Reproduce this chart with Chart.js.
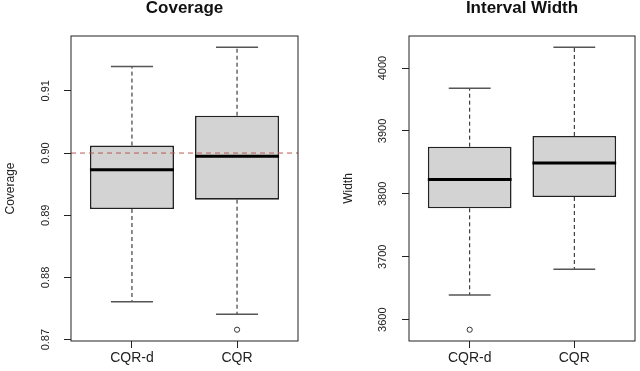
<!DOCTYPE html>
<html>
<head>
<meta charset="utf-8">
<script src="https://cdn.jsdelivr.net/npm/chart.js@4/dist/chart.umd.min.js"></script>
<style>
  body { margin: 0; background: #fff; }
  .panel { display: inline-block; width: 320px; height: 371px; vertical-align: top; }
</style>
</head>
<body>
<div class="panel"><canvas id="coverageChart" width="320" height="371"></canvas></div><div class="panel"><canvas id="widthChart" width="320" height="371"></canvas></div>
<script>
// box statistics
const groups = ['CQR-d', 'CQR'];

const covLow = [0.8761, 0.8741];
const covQ1 = [0.8910, 0.8925];
const covMedian = [0.8973, 0.8995];
const covQ3 = [0.9012, 0.9060];
const covHigh = [0.9139, 0.9170];
const covOutliers = [[], [0.8716]];
const covTicks = [0.87, 0.88, 0.89, 0.90, 0.91];
const covTarget = 0.90;

const widthLow = [3639, 3680];
const widthQ1 = [3777, 3795];
const widthMedian = [3823, 3849];
const widthQ3 = [3875, 3892];
const widthHigh = [3968, 4033];
const widthOutliers = [[3584], []];
const widthTicks = [3600, 3700, 3800, 3900, 4000];

const FONT = "'Liberation Sans', Arial, sans-serif";

// R style: range of all values, widened by 4%
function rangeOf(low, high, outliers) {
  const all = low.concat(high, ...outliers);
  const lo = Math.min(...all), hi = Math.max(...all);
  const pad = (hi - lo) * 0.04;
  return [lo - pad, hi + pad];
}

const boxPlugin = {
  id: 'boxParts',
  afterDatasetsDraw(chart, args, opts) {
    const { ctx, chartArea } = chart;
    const x = chart.scales.x, y = chart.scales.y;
    const half = (x.getPixelForValue(1.4) - x.getPixelForValue(1)); // box half width
    ctx.save();
    opts.low.forEach((lo, i) => {
      const cx = x.getPixelForValue(i + 1);
      // whiskers
      ctx.setLineDash([4, 3]);
      ctx.strokeStyle = '#1a1a1a';
      ctx.lineWidth = 1;
      ctx.beginPath();
      ctx.moveTo(cx, y.getPixelForValue(opts.q3[i]));
      ctx.lineTo(cx, y.getPixelForValue(opts.high[i]));
      ctx.moveTo(cx, y.getPixelForValue(opts.q1[i]));
      ctx.lineTo(cx, y.getPixelForValue(lo));
      ctx.stroke();
      // staples
      ctx.setLineDash([]);
      ctx.strokeStyle = '#555';
      ctx.lineWidth = 1.5;
      ctx.beginPath();
      [lo, opts.high[i]].forEach(v => {
        const py = y.getPixelForValue(v);
        ctx.moveTo(cx - half / 2, py);
        ctx.lineTo(cx + half / 2, py);
      });
      ctx.stroke();
      // median
      ctx.strokeStyle = '#000';
      ctx.lineWidth = 3;
      ctx.beginPath();
      const my = y.getPixelForValue(opts.median[i]);
      ctx.moveTo(cx - half, my);
      ctx.lineTo(cx + half, my);
      ctx.stroke();
    });
    if (opts.target != null) {
      ctx.setLineDash([5, 4]);
      ctx.strokeStyle = '#b85a50';
      ctx.lineWidth = 1;
      const ty = y.getPixelForValue(opts.target);
      ctx.beginPath();
      ctx.moveTo(chartArea.left, ty);
      ctx.lineTo(chartArea.right, ty);
      ctx.stroke();
    }
    // frame
    ctx.setLineDash([]);
    ctx.strokeStyle = '#222';
    ctx.lineWidth = 1;
    ctx.strokeRect(chartArea.left, chartArea.top, chartArea.right - chartArea.left, chartArea.bottom - chartArea.top);
    ctx.restore();
  }
};

function makeChart(id, title, yTitle, stats, ticks, fmt, padLeft, padRight) {
  const [ymin, ymax] = rangeOf(stats.low, stats.high, stats.outliers);
  const outlierPoints = [];
  stats.outliers.forEach((list, i) => list.forEach(v => outlierPoints.push({ x: i + 1, y: v })));

  return new Chart(document.getElementById(id), {
    type: 'bar',
    data: {
      datasets: [{
        data: groups.map((g, i) => ({ x: i + 1, y: [stats.q1[i], stats.q3[i]] })),
        backgroundColor: '#d3d3d3',
        borderColor: '#222',
        borderWidth: 1.6,
        borderSkipped: false,
        categoryPercentage: 1,
        barPercentage: 0.8
      }, {
        type: 'scatter',
        data: outlierPoints,
        pointRadius: 2.6,
        pointBorderWidth: 1,
        pointBorderColor: '#333',
        pointBackgroundColor: 'rgba(0,0,0,0)'
      }]
    },
    options: {
      responsive: false,
      animation: false,
      devicePixelRatio: 1,
      layout: { padding: { left: padLeft, right: padRight, top: 0, bottom: 0 } },
      plugins: {
        legend: { display: false },
        tooltip: { enabled: false },
        title: {
          display: true,
          text: title,
          fullSize: false,
          color: '#111',
          font: { family: FONT, size: 17, weight: 'bold' },
          padding: { top: -2, bottom: 17.6 }
        },
        boxParts: { ...stats }
      },
      scales: {
        x: {
          type: 'linear',
          min: 0.42,
          max: 2.58,
          offset: false,
          afterBuildTicks: s => { s.ticks = groups.map((g, i) => ({ value: i + 1 })); },
          afterFit: s => { s.height = 30; },
          grid: { offset: false, drawOnChartArea: false, tickLength: 7, tickColor: '#222', tickWidth: 1 },
          border: { display: false },
          ticks: {
            callback: v => groups[Math.round(v) - 1],
            color: '#222',
            font: { family: FONT, size: 14 },
            padding: 2,
            maxRotation: 0,
            autoSkip: false
          }
        },
        y: {
          min: ymin,
          max: ymax,
          afterBuildTicks: s => { s.ticks = ticks.map(v => ({ value: v })); },
          afterFit: s => { s.width = 71; },
          grid: { drawOnChartArea: false, tickLength: 7, tickColor: '#222', tickWidth: 1 },
          border: { display: false },
          title: {
            display: true,
            text: yTitle,
            color: '#222',
            font: { family: FONT, size: 12 },
            padding: { top: 3 }
          },
          ticks: {
            callback: fmt,
            color: '#222',
            font: { family: FONT, size: 11 },
            minRotation: 90,
            maxRotation: 90,
            crossAlign: 'center',
            padding: 7,
            autoSkip: false
          }
        }
      }
    },
    plugins: [boxPlugin]
  });
}

makeChart('coverageChart', 'Coverage', 'Coverage', {
  low: covLow, q1: covQ1, median: covMedian, q3: covQ3, high: covHigh,
  outliers: covOutliers, target: covTarget
}, covTicks, v => v.toFixed(2), 0, 22);

makeChart('widthChart', 'Interval Width', 'Width', {
  low: widthLow, q1: widthQ1, median: widthMedian, q3: widthQ3, high: widthHigh,
  outliers: widthOutliers, target: null
}, widthTicks, v => String(v), 18, 5);
</script>
</body>
</html>
